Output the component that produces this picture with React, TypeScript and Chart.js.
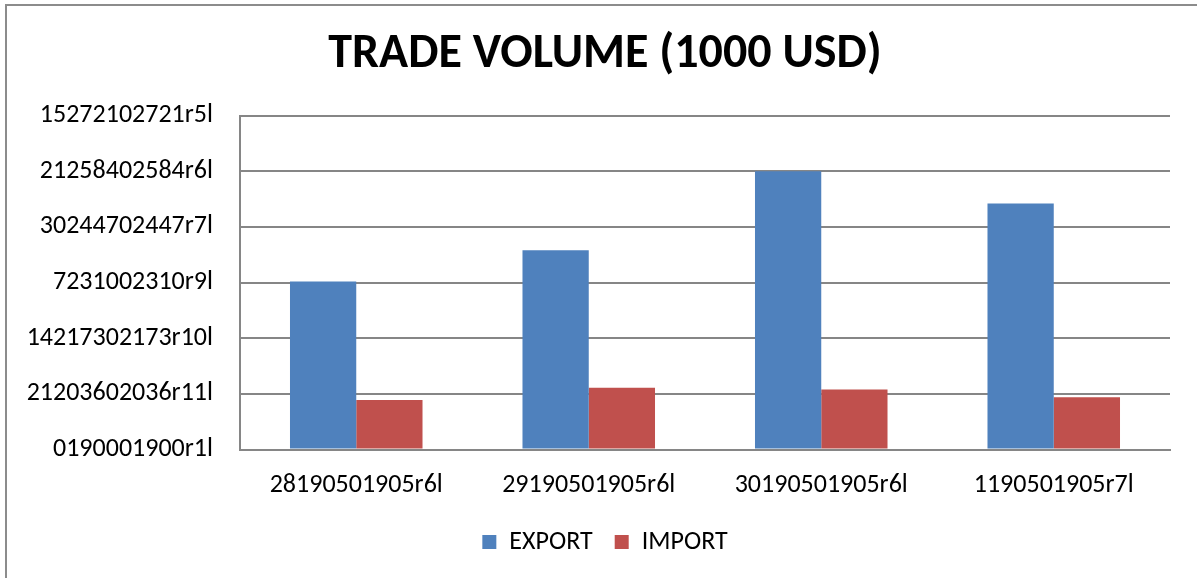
import React, { useEffect, useRef } from "react";
import { Chart, registerables } from "chart.js";

Chart.register(...registerables);

const categories = ["28190501905r6l", "29190501905r6l", "30190501905r6l", "1190501905r7l"];
const exportValues = [3.02, 3.58, 5.0, 4.42];
const importValues = [0.89, 1.11, 1.08, 0.94];
const yTickLabels = [
  "0190001900r1l",
  "21203602036r11l",
  "14217302173r10l",
  "7231002310r9l",
  "30244702447r7l",
  "21258402584r6l",
  "15272102721r5l",
];

const FONT = "Calibri, Carlito, Lato, sans-serif";

export default function App() {
  const ref = useRef<HTMLCanvasElement | null>(null);
  useEffect(() => {
    document.body.style.margin = "0";
    document.body.style.overflow = "hidden";
    const chart = new Chart(ref.current!, {
      type: "bar",
      data: {
        labels: categories,
        datasets: [
          { label: "EXPORT", data: exportValues, backgroundColor: "#4F81BD", borderWidth: 0 },
          { label: "IMPORT", data: importValues, backgroundColor: "#C0504D", borderWidth: 0 },
        ],
      },
      options: {
        animation: false,
        responsive: false,
        maintainAspectRatio: false,
        layout: { padding: { left: 6, right: 0, top: 0, bottom: 13 } },
        datasets: { bar: { categoryPercentage: 0.57, barPercentage: 1 } },
        plugins: {
          title: {
            display: true,
            text: "TRADE VOLUME (1000 USD)",
            color: "#000",
            font: { family: FONT, size: 48, weight: "bold" },
            padding: { top: 20, bottom: 32 },
          },
          legend: {
            position: "bottom",
            labels: {
              color: "#000",
              font: { family: FONT, size: 26 },
              boxWidth: 14,
              boxHeight: 14,
              padding: 22,
            },
          },
          tooltip: { enabled: false },
        },
        scales: {
          x: {
            grid: { display: false, drawTicks: false },
            border: { color: "#868686", width: 2 },
            ticks: { color: "#000", font: { family: FONT, size: 26 }, padding: 20, maxRotation: 0 },
            afterFit: (s: any) => {
              s.height = 57.5;
            },
          },
          y: {
            min: 0,
            max: 6,
            grid: { color: "#868686", lineWidth: 2, drawTicks: false },
            border: { color: "#868686", width: 2 },
            ticks: {
              stepSize: 1,
              color: "#000",
              font: { family: FONT, size: 26 },
              padding: 27,
              callback: (v: any) => yTickLabels[Number(v)] ?? "",
            },
            afterFit: (s: any) => {
              s.width = 227;
            },
          },
          spacer: {
            type: "linear",
            position: "right",
            display: true,
            grid: { display: false, drawTicks: false },
            border: { display: false },
            ticks: { display: false },
            afterFit: (s: any) => {
              s.width = 27;
            },
          },
        },
      },
    });
    return () => chart.destroy();
  }, []);
  return (
    <div
      style={{
        position: "absolute",
        left: 5,
        top: 4,
        width: 1192,
        height: 574,
        borderLeft: "2px solid #8c8c8c",
        borderTop: "2px solid #8c8c8c",
        boxSizing: "border-box",
        background: "#fff",
      }}
    >
      <canvas ref={ref} width={1190} height={572} style={{ display: "block" }} />
    </div>
  );
}
